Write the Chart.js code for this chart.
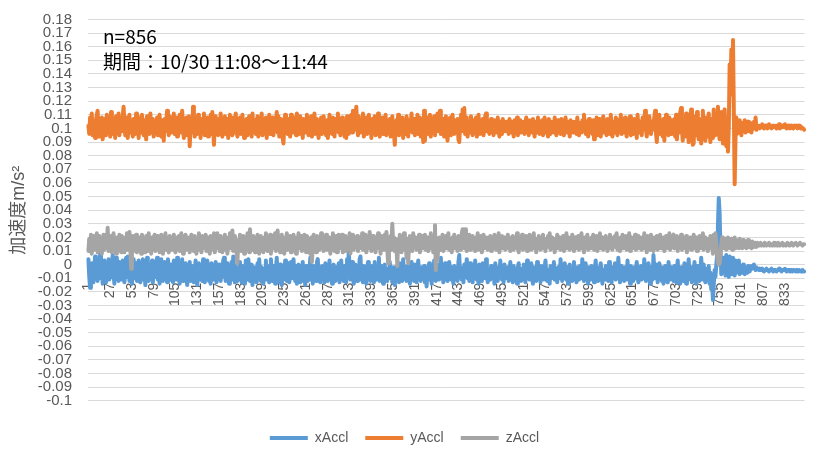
<!DOCTYPE html>
<html lang="ja">
<head>
<meta charset="utf-8">
<title>加速度</title>
<script src="https://cdn.jsdelivr.net/npm/chart.js@4.4.1/dist/chart.umd.min.js"></script>
<style>
  html, body { margin: 0; padding: 0; background: #fff; }
</style>
</head>
<body>
<canvas id="accl-chart" width="820" height="451"></canvas>
<script>
// 加速度データ (単位: 0.001 m/s², 856点).
const xAccl = [
  4,-9,-17,-11,1,-7,-13,-2,6,-8,-3,-12,2,-6,8,-10,-1,-14,-5,3,
  -8,-13,0,-6,4,-11,-3,-9,1,7,-7,-14,-2,5,-10,-4,-12,2,-6,-1,
  -11,3,-7,-13,-2,5,-9,6,-5,-12,0,-8,-14,-3,4,-10,-6,1,-12,-4,
  3,-9,-13,-1,-7,4,-11,-4,-15,-2,5,-8,-12,0,-6,-10,3,-13,-5,1,
  -9,-3,5,-11,-7,-14,-1,4,-8,-12,-3,2,-10,-6,-13,4,-2,-9,-11,0,
  -6,-13,3,-8,-2,-11,5,-5,-9,-14,-1,-7,4,-12,-4,-10,1,-8,-15,-3,
  -7,2,-12,-5,-10,-1,-13,-6,3,-9,-15,-4,1,-11,-7,-2,-12,4,-6,-13,
  -2,-9,3,-5,-12,-8,-14,1,-6,-3,-11,-7,2,-13,-4,-10,0,-8,-12,-2,
  -9,3,5,-7,-12,-4,1,-10,-14,-3,-8,2,-11,6,-5,-13,-1,-7,-12,-4,
  -10,2,-6,-13,-1,-9,-4,-14,3,-7,-11,4,-3,-12,-6,0,-15,-8,-2,-11,
  -5,-13,1,-8,4,-6,-12,-2,-10,-14,-3,-7,3,-11,-1,-9,-13,-5,4,-8,
  -12,-1,-7,-14,-3,5,-10,-6,-13,0,-8,-15,-2,-11,-5,3,-9,-12,-4,1,
  -13,-6,2,-10,-3,4,-8,-12,-1,-14,-7,0,-11,-13,-4,-9,2,-12,-6,-15,
  -1,-8,-12,-3,-7,5,-11,-4,-14,-1,-9,-6,-12,2,4,-10,-7,-13,-3,-1,
  -11,-5,-13,1,-8,-3,-12,-7,3,-10,-2,-14,-5,0,-9,-12,-2,-7,-11,1,
  -13,-4,3,-9,-6,-12,-1,-7,-13,4,-8,10,-2,-11,-5,2,-10,-14,-6,0,
  -8,-12,-2,-7,4,6,-11,-5,-13,-1,-9,-6,-14,-3,2,-10,-4,-12,-1,-8,
  -5,-13,2,-9,-11,-2,-7,5,-12,-4,-1,-10,-14,-6,0,-11,-3,-12,-5,-8,
  2,-10,-6,-13,-2,-9,-15,-4,-11,-1,-7,-13,1,-9,-5,-12,4,-7,-10,-3,
  -12,-1,-8,-5,-14,-3,2,-10,-7,-12,0,-8,-13,-4,3,-9,-6,-12,-2,-7,
  -10,-1,-13,-7,-16,-3,-9,1,-11,-5,-14,-2,-8,3,-6,-12,-4,-10,0,-11,
  -6,5,-10,-3,-13,-7,1,-9,-4,-12,-8,2,-6,-11,-2,-9,-14,-1,-7,-10,
  -3,-12,2,7,-8,-2,-11,-5,-13,0,-9,-6,4,-10,-3,-12,1,-8,-5,-13,
  -2,-9,3,-7,-11,-4,-14,0,-8,-5,-12,1,-9,-3,-10,4,-6,-13,-4,-8,
  -11,-1,-7,-10,-3,-14,1,-8,-5,-12,-2,-9,3,-6,-11,-4,-13,0,-8,-6,
  -10,-2,-12,-6,2,-9,-4,-13,-1,-8,-11,-5,-14,-2,1,-9,-6,-12,-3,-10,
  0,-8,-13,-5,3,-10,-3,-11,-7,1,-9,-14,-2,-7,-5,-12,2,-6,-10,-3,
  -13,-1,-9,-5,-11,-2,3,-8,-12,-4,-6,-14,-1,-10,-5,-9,2,-11,-4,-8,
  -13,-2,-6,-10,4,-5,-12,-3,-9,1,-8,-11,-2,-14,-5,0,-10,-6,-12,-3,
  2,-9,-5,-13,-2,-8,-11,-1,-7,-10,4,-4,-12,-7,1,-9,-5,-14,-2,-6,
  -11,-1,-8,-5,-13,-3,3,-9,-6,-12,-2,-10,1,-7,-14,-4,-6,-11,-1,-9,
  -5,-12,2,-8,-3,-13,-2,-10,-6,1,-11,-5,-9,5,-4,-13,-7,-1,-10,-5,
  -12,-2,-6,-11,3,-9,-4,-14,-1,-8,-5,-12,-2,-10,-6,2,-9,-13,-3,-7,
  -1,-11,-5,-9,4,-6,-12,-3,-10,1,-8,-14,-2,-6,-11,7,-4,0,-10,-3,
  -13,-6,1,-9,-2,-12,-5,-14,-7,-1,-10,-3,-13,2,-6,-11,-2,-9,-5,-12,
  -1,-8,-13,-3,3,-10,-6,-14,-2,-9,-5,-12,1,-7,-14,-3,-10,4,-6,-11,
  -2,-13,-5,-9,2,-6,-14,-1,-10,-4,-12,-7,5,-5,-11,0,-9,-13,-3,-6,
  -10,-1,-14,-6,-18,-10,-26,-15,-4,-9,-1,7,28,49,38,12,-7,3,-4,5,
  3,-8,7,-4,2,-9,6,-3,1,-7,5,-2,-8,3,-6,1,-5,3,-7,-1,
  -3,-6,0,-5,-7,-2,-4,-6,-1,-3,-5,-2,-1,-3,-2,0,-2,-4,-2,-3,
  -3,-4,-3,-4,-4,-3,-4,-5,-4,-4,-3,-4,-4,-5,-4,-4,-3,-4,-5,-4,
  -4,-4,-5,-4,-4,-3,-4,-4,-5,-4,-4,-4,-3,-4,-5,-4,-4,-4,-5,-4,
  -4,-5,-4,-4,-4,-5,-4,-4,-5,-4,-4,-5,-5,-4,-5,-5
];
const yAccl = [
  102,96,108,99,111,95,104,100,93,106,110,113,98,94,105,101,108,92,99,107,
  95,103,110,97,101,108,94,112,100,96,107,103,93,109,99,104,111,95,102,98,
  106,109,116,104,95,100,108,93,103,110,97,105,99,94,107,102,96,111,100,104,
  93,108,101,97,110,99,95,106,103,92,109,100,104,96,111,98,102,107,94,105,
  100,97,108,95,103,110,99,94,106,101,91,107,98,104,113,100,95,109,102,97,
  105,99,111,96,102,108,94,103,100,110,97,106,113,99,93,105,101,108,95,103,
  109,87,100,106,97,116,104,94,108,101,96,110,99,105,93,107,102,98,111,95,
  103,100,108,94,106,99,110,96,112,101,88,104,109,97,102,95,107,100,111,98,
  94,105,101,109,96,103,107,93,100,110,98,104,95,108,102,97,111,99,94,106,
  101,108,96,103,110,99,93,105,100,107,95,102,109,97,104,94,111,100,98,106,
  96,103,109,94,100,107,98,111,95,104,101,97,108,93,106,102,110,96,99,105,
  108,95,103,100,106,112,97,109,94,102,107,99,93,89,104,110,98,101,96,107,
  103,94,110,99,105,97,108,101,95,111,100,104,96,109,98,102,93,107,100,105,
  97,110,102,95,106,100,109,94,104,98,111,96,103,107,99,93,105,101,108,96,
  102,109,97,104,95,106,93,100,110,98,103,96,108,101,94,107,99,105,111,97,
  104,95,101,108,98,106,94,103,93,109,100,96,107,102,110,97,113,105,99,108,
  116,102,95,109,101,97,106,99,111,94,104,100,108,96,103,110,98,105,93,107,
  101,97,109,95,104,100,111,98,94,106,102,108,96,103,99,110,95,105,101,97,
  107,94,103,109,99,96,88,101,106,98,110,95,104,100,97,108,93,105,102,96,
  109,100,94,106,98,103,111,97,101,107,95,104,99,110,96,102,108,94,105,100,
  90,113,91,105,99,108,96,102,110,94,106,101,97,109,95,104,100,111,98,103,
  113,96,104,99,107,94,101,109,97,91,105,100,108,95,103,110,98,96,106,102,
  99,107,92,90,103,110,98,114,104,115,96,101,108,94,105,100,97,109,102,95,
  106,100,97,108,94,103,110,99,96,105,101,107,95,102,109,111,98,104,100,96,
  103,107,98,101,95,106,100,104,97,108,99,94,105,102,96,107,100,103,98,105,
  99,104,96,107,101,97,105,100,94,106,102,98,108,95,103,100,106,97,102,99,
  105,96,103,108,98,101,95,106,100,104,97,107,99,94,105,102,97,108,100,96,
  104,99,106,95,102,108,97,103,100,94,107,101,96,105,99,104,97,108,100,95,
  103,106,98,101,96,107,100,104,95,102,108,99,97,105,101,94,106,100,103,97,
  105,99,102,96,108,100,95,104,101,97,106,99,110,103,96,105,100,94,107,101,
  98,104,96,106,92,103,100,108,95,102,107,99,94,105,101,109,97,103,100,95,
  107,99,104,96,110,100,94,105,102,97,108,101,95,106,99,103,110,96,101,105,
  97,108,100,94,106,102,98,109,95,103,101,96,107,99,104,93,110,100,97,105,
  101,95,108,99,104,113,100,94,106,97,109,101,96,105,99,103,108,113,97,90,
  105,99,110,96,103,100,94,107,91,104,110,97,102,95,108,100,96,106,99,103,
  107,94,110,92,103,108,97,112,115,99,91,106,101,94,111,97,104,90,107,100,
  114,96,88,89,105,109,95,112,100,92,107,101,89,104,113,96,100,91,108,103,
  94,111,98,90,107,102,93,114,100,95,109,104,116,97,92,106,112,98,89,104,
  114,99,87,106,83,101,147,125,158,142,165,112,59,92,108,96,104,98,106,100,
  95,104,100,98,106,97,103,101,105,98,102,104,97,103,100,105,101,108,99,102,
  101,102,100,102,101,103,101,100,102,101,102,100,101,103,101,102,100,101,102,101,
  102,101,100,102,101,103,100,101,102,101,102,101,103,101,100,102,101,102,100,101,
  102,101,100,102,101,101,102,100,101,102,101,100,101,100,100,99
];
const zAccl = [
  10,19,13,22,8,17,21,11,18,14,23,9,16,21,12,19,8,15,22,11,
  17,22,13,27,10,19,14,21,9,16,23,12,18,8,20,14,11,22,15,9,
  21,12,18,9,20,14,23,11,17,24,13,-3,16,21,10,18,13,22,9,17,
  12,20,15,8,22,11,19,14,9,21,16,10,23,13,18,8,20,12,17,22,
  10,16,21,12,19,9,17,22,13,8,20,15,23,11,18,13,9,21,14,19,
  11,18,22,13,9,20,15,12,21,10,17,23,14,8,19,16,22,11,18,13,
  20,9,16,22,12,18,10,21,15,8,19,13,23,11,17,9,21,14,19,12,
  22,10,16,20,13,8,21,15,18,11,23,9,17,14,23,12,19,10,21,15,
  9,18,13,22,11,20,8,17,14,23,12,19,25,10,16,21,13,9,1,18,
  14,22,10,19,13,21,8,17,20,12,23,15,9,26,13,18,11,21,16,9,
  19,12,22,14,8,18,21,11,16,9,20,13,23,15,10,19,14,22,8,17,
  21,12,18,23,10,16,25,13,19,9,17,22,12,18,8,20,14,23,11,16,
  13,21,9,19,14,22,11,18,8,20,15,23,12,17,21,10,19,13,22,16,
  9,21,14,19,11,8,20,2,16,22,12,18,9,21,14,19,11,17,23,12,
  18,10,21,15,22,11,17,13,20,8,19,12,23,14,10,18,21,9,16,22,
  12,19,14,22,9,18,13,21,10,17,20,12,23,8,18,15,22,11,19,13,
  16,21,10,20,12,18,14,23,11,19,13,22,9,17,20,12,24,15,10,19,
  21,13,17,9,20,12,23,15,18,8,21,14,19,11,22,16,24,12,1,18,
  14,21,11,30,17,20,10,19,13,-1,18,12,22,15,9,20,13,23,11,17,
  5,19,1,15,21,12,18,10,23,14,16,20,11,19,14,22,9,18,13,21,
  12,18,22,11,17,20,10,19,14,23,12,18,9,21,29,-4,17,3,14,20,
  11,19,14,22,10,18,13,21,12,17,23,11,19,15,9,20,13,22,12,18,
  16,10,21,13,19,11,23,26,14,12,26,18,10,20,13,22,11,19,15,21,
  12,18,10,20,14,23,11,19,13,21,9,17,22,12,18,14,20,11,19,13,
  21,10,17,20,12,22,14,11,19,13,23,9,18,14,21,12,17,20,11,19,
  14,22,12,18,10,20,13,21,11,17,19,12,23,14,9,18,20,13,22,11,
  17,19,12,21,10,18,14,22,13,11,20,15,23,12,19,9,18,14,21,13,
  11,20,15,22,12,19,10,18,14,21,13,23,11,17,20,12,19,9,18,14,
  22,12,17,20,11,19,13,21,10,18,14,23,12,17,20,11,19,13,22,14,
  10,18,20,12,17,21,11,19,14,23,12,18,9,20,13,17,22,11,19,14,
  12,20,15,22,11,18,13,21,10,19,14,23,12,17,20,11,18,13,21,14,
  10,19,15,22,12,20,11,18,14,21,13,23,11,17,19,10,20,14,22,12,
  18,13,21,11,19,14,23,10,17,20,12,18,13,22,11,19,14,21,12,17,
  20,11,18,13,23,12,17,9,21,14,19,11,22,13,18,10,20,12,17,21,
  11,19,14,22,12,18,13,20,10,17,21,12,19,14,23,11,18,13,20,22,
  12,18,14,21,10,19,13,17,22,11,20,14,18,12,21,9,17,19,13,20,
  11,18,14,22,12,17,20,10,19,13,21,12,18,14,23,11,17,20,13,18,
  10,19,14,21,12,18,8,22,11,23,16,8,2,0,1,7,15,20,12,18,
  13,19,11,17,20,12,18,14,19,11,17,13,20,12,18,14,17,12,19,13,
  17,12,18,14,13,17,12,16,18,13,17,14,12,17,15,13,16,15,13,16,
  15,14,15,16,14,15,15,14,16,15,14,15,15,16,14,15,15,14,15,16,
  14,15,15,14,16,15,14,15,15,16,14,15,15,14,15,16,15,14,15,15,
  16,15,14,15,15,16,15,14,15,15,16,15,15,14,15,15
];

// 横軸ラベル (サンプル番号).
const sampleLabels = yAccl.map((_, i) => String(i + 1));
const labelStep = 26;

const seriesNames = ['xAccl', 'yAccl', 'zAccl'];
const seriesColors = ['#5b9bd5', '#ed7d31', '#a5a5a5'];
const noteLines = ['n=856', '期間：10/30 11:08～11:44'];

const latinFont = '"Liberation Sans", Arial, sans-serif';
const textGray = '#595959';

// 左上の注記.
const notePlugin = {
  id: 'note',
  afterDraw(chart) {
    const ctx = chart.ctx;
    ctx.save();
    ctx.fillStyle = '#000';
    ctx.font = '19px "Noto Sans CJK JP", sans-serif';
    ctx.fillText(noteLines[0], 103, 37);
    ctx.fillText(noteLines[1], 103, 62);
    ctx.restore();
  }
};

function series(i, values, order) {
  return {
    label: seriesNames[i],
    data: values.map(v => v / 1000),
    borderColor: seriesColors[i],
    backgroundColor: seriesColors[i],
    borderWidth: 4,
    borderCapStyle: 'round',
    borderJoinStyle: 'round',
    pointRadius: 0,
    pointHoverRadius: 0,
    tension: 0,
    order: order,
  };
}

new Chart(document.getElementById('accl-chart'), {
  type: 'line',
  data: {
    labels: sampleLabels,
    datasets: [
      series(0, xAccl, 2),
      series(1, yAccl, 1),
      series(2, zAccl, 0),
    ],
  },
  options: {
    responsive: false,
    animation: false,
    events: [],
    layout: { padding: { left: 0, right: 11, top: 19.5, bottom: -4 } },
    plugins: {
      legend: {
        position: 'bottom',
        // 凡例の上の余白.
        title: { display: true, text: ' ', font: { size: 11 }, padding: 0 },
        labels: {
          usePointStyle: true,
          pointStyle: 'line',
          pointStyleWidth: 38,
          boxWidth: 38,
          padding: 17,
          color: textGray,
          font: { family: latinFont, size: 14 },
          sort: (a, b) => a.datasetIndex - b.datasetIndex,
        },
      },
      tooltip: { enabled: false },
    },
    scales: {
      x: {
        position: { y: 0 },
        offset: true,
        grid: { display: false, drawTicks: false },
        border: { color: '#d9d9d9' },
        ticks: {
          autoSkip: false,
          minRotation: 90,
          maxRotation: 90,
          padding: 18,
          color: textGray,
          font: { family: latinFont, size: 14 },
          callback: (v, i) => (i % labelStep === 0 ? sampleLabels[i] : null),
        },
      },
      y: {
        min: -0.1,
        max: 0.18,
        afterFit: (scale) => { scale.width = 88; },
        // 目盛り線は見せずにラベルとの間隔だけ取る.
        grid: { color: '#d9d9d9', drawTicks: true, tickLength: 16, tickColor: 'rgba(0,0,0,0)' },
        border: { display: false },
        ticks: {
          stepSize: 0.01,
          autoSkip: false,
          padding: 0,
          color: textGray,
          font: { family: latinFont, size: 15 },
          callback: (v) => String(Math.round(v * 100) / 100),
        },
        title: {
          display: true,
          text: '加速度m/s²',
          color: textGray,
          font: { family: '"Liberation Sans", "Noto Sans CJK JP", sans-serif', size: 18 },
          padding: { top: 8.5, bottom: 0 },
        },
      },
    },
  },
  plugins: [notePlugin],
});
</script>
</body>
</html>
